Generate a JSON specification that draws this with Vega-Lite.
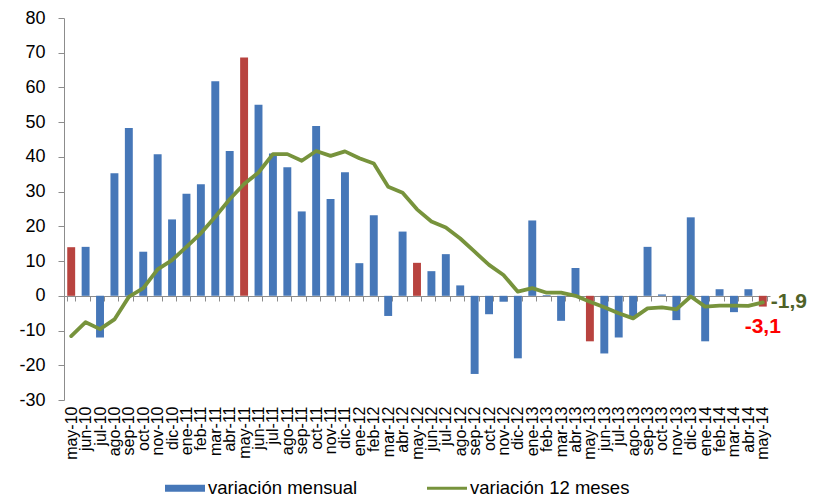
{
  "$schema": "https://vega.github.io/schema/vega-lite/v6.json",
  "width": 706,
  "height": 382,
  "autosize": "none",
  "padding": {"left": 64, "top": 18, "right": 43, "bottom": 99},
  "background": "white",
  "config": {
    "view": {"stroke": null},
    "font": "Liberation Sans",
    "axis": {"labelOverlap": false},
    "locale": {"number": {"decimal": ",", "thousands": ".", "grouping": [3], "currency": ["", ""], "minus": "-"}}
  },
  "data": {
    "values": [
      {"mes": "may-10", "mensual": 14.0, "anual": -11.6},
      {"mes": "jun-10", "mensual": 14.1, "anual": -7.6},
      {"mes": "jul-10", "mensual": -12.0, "anual": -9.6},
      {"mes": "ago-10", "mensual": 35.3, "anual": -6.8},
      {"mes": "sep-10", "mensual": 48.3, "anual": -0.3},
      {"mes": "oct-10", "mensual": 12.7, "anual": 2.2},
      {"mes": "nov-10", "mensual": 40.8, "anual": 7.6},
      {"mes": "dic-10", "mensual": 22.0, "anual": 10.3},
      {"mes": "ene-11", "mensual": 29.4, "anual": 14.1},
      {"mes": "feb-11", "mensual": 32.1, "anual": 18.0},
      {"mes": "mar-11", "mensual": 61.8, "anual": 22.8},
      {"mes": "abr-11", "mensual": 41.7, "anual": 27.8},
      {"mes": "may-11", "mensual": 68.6, "anual": 32.2},
      {"mes": "jun-11", "mensual": 55.0, "anual": 35.5},
      {"mes": "jul-11", "mensual": 41.0, "anual": 40.8},
      {"mes": "ago-11", "mensual": 37.0, "anual": 40.8},
      {"mes": "sep-11", "mensual": 24.3, "anual": 38.9},
      {"mes": "oct-11", "mensual": 48.9, "anual": 41.7},
      {"mes": "nov-11", "mensual": 27.9, "anual": 40.3},
      {"mes": "dic-11", "mensual": 35.6, "anual": 41.6},
      {"mes": "ene-12", "mensual": 9.4, "anual": 39.6},
      {"mes": "feb-12", "mensual": 23.2, "anual": 38.1},
      {"mes": "mar-12", "mensual": -5.8, "anual": 31.4},
      {"mes": "abr-12", "mensual": 18.5, "anual": 29.7},
      {"mes": "may-12", "mensual": 9.5, "anual": 24.9},
      {"mes": "jun-12", "mensual": 7.1, "anual": 21.4},
      {"mes": "jul-12", "mensual": 12.0, "anual": 19.7},
      {"mes": "ago-12", "mensual": 3.0, "anual": 16.5},
      {"mes": "sep-12", "mensual": -22.5, "anual": 12.7},
      {"mes": "oct-12", "mensual": -5.3, "anual": 8.9},
      {"mes": "nov-12", "mensual": -1.7, "anual": 6.0},
      {"mes": "dic-12", "mensual": -18.0, "anual": 1.2},
      {"mes": "ene-13", "mensual": 21.7, "anual": 2.2},
      {"mes": "feb-13", "mensual": 0.2, "anual": 0.9},
      {"mes": "mar-13", "mensual": -7.2, "anual": 0.9},
      {"mes": "abr-13", "mensual": 8.0, "anual": 0.0},
      {"mes": "may-13", "mensual": -13.1, "anual": -1.7},
      {"mes": "jun-13", "mensual": -16.6, "anual": -3.3},
      {"mes": "jul-13", "mensual": -12.0, "anual": -5.0},
      {"mes": "ago-13", "mensual": -6.0, "anual": -6.5},
      {"mes": "sep-13", "mensual": 14.1, "anual": -3.6},
      {"mes": "oct-13", "mensual": 0.4, "anual": -3.3},
      {"mes": "nov-13", "mensual": -7.0, "anual": -3.9},
      {"mes": "dic-13", "mensual": 22.6, "anual": -0.2},
      {"mes": "ene-14", "mensual": -13.1, "anual": -3.1},
      {"mes": "feb-14", "mensual": 1.9, "anual": -2.8},
      {"mes": "mar-14", "mensual": -4.7, "anual": -2.8},
      {"mes": "abr-14", "mensual": 1.9, "anual": -2.9},
      {"mes": "may-14", "mensual": -3.1, "anual": -1.9}
    ]
  },
  "encoding": {
    "x": {
      "field": "mes",
      "type": "ordinal",
      "sort": null,
      "scale": {"paddingInner": 0.45, "paddingOuter": 0.225},
      "axis": {
        "title": null,
        "orient": "bottom",
        "offset": -104,
        "domainColor": "#8c8c8c",
        "tickColor": "#8c8c8c",
        "tickSize": 5,
        "tickBand": "extent",
        "labelAngle": -90,
        "labelAlign": "right",
        "labelBaseline": "middle",
        "labelPadding": 105,
        "labelFontSize": 16,
        "labelColor": "#000000",
        "labelOverlap": false
      }
    }
  },
  "layer": [
    {
      "mark": {"type": "bar"},
      "encoding": {
        "y": {
          "field": "mensual",
          "type": "quantitative",
          "scale": {"domain": [-30, 80], "nice": false, "zero": false},
          "axis": {
            "title": null,
            "values": [-30, -20, -10, 0, 10, 20, 30, 40, 50, 60, 70, 80],
            "tickCount": 12,
            "grid": false,
            "domainColor": "#8c8c8c",
            "tickColor": "#8c8c8c",
            "tickSize": 6,
            "labelPadding": 13,
            "labelFontSize": 18,
            "labelColor": "#000000",
            "labelOverlap": false,
            "labelFlush": false
          }
        },
        "color": {
          "datum": "variación mensual",
          "condition": {"test": "indexof(datum.mes, 'may') === 0", "value": "#B8433F"},
          "scale": {"domain": ["variación mensual", "variación 12 meses"], "range": ["#4677B8", "#77933C"]},
          "legend": {
            "title": null,
            "orient": "none",
            "legendX": 101,
            "legendY": 450,
            "direction": "horizontal",
            "symbolSize": 1600,
            "labelFontSize": 18.5,
            "labelColor": "#000000",
            "labelOffset": 3,
            "columnPadding": 69,
            "encode": {
              "symbols": {
                "update": {
                  "shape": {"signal": "datum.label === 'variación mensual' ? 'M-1,-0.17H1V0.17H-1Z' : 'M-1,-0.075H1V0.075H-1Z'"},
                  "fill": {"scale": "color", "field": "value"},
                  "strokeWidth": {"value": 0},
                  "opacity": {"value": 1}
                }
              }
            }
          }
        }
      }
    },
    {
      "mark": {"type": "line", "strokeWidth": 3.8, "strokeJoin": "round", "strokeCap": "round"},
      "encoding": {
        "y": {"field": "anual", "type": "quantitative"},
        "color": {"datum": "variación 12 meses"}
      }
    },
    {
      "transform": [{"filter": "datum.mes === 'may-14'"}],
      "mark": {"type": "text", "align": "left", "baseline": "middle", "dx": 8, "fontSize": 21, "fontWeight": "bold", "color": "#4F6228"},
      "encoding": {
        "y": {"field": "anual", "type": "quantitative"},
        "text": {"field": "anual", "type": "quantitative", "format": ".1f"}
      }
    },
    {
      "transform": [{"filter": "datum.mes === 'may-14'"}],
      "mark": {"type": "text", "align": "center", "baseline": "middle", "dx": 0, "dy": 20, "fontSize": 21, "fontWeight": "bold", "color": "#FF0000"},
      "encoding": {
        "y": {"field": "mensual", "type": "quantitative"},
        "text": {"field": "mensual", "type": "quantitative", "format": ".1f"}
      }
    }
  ]
}
